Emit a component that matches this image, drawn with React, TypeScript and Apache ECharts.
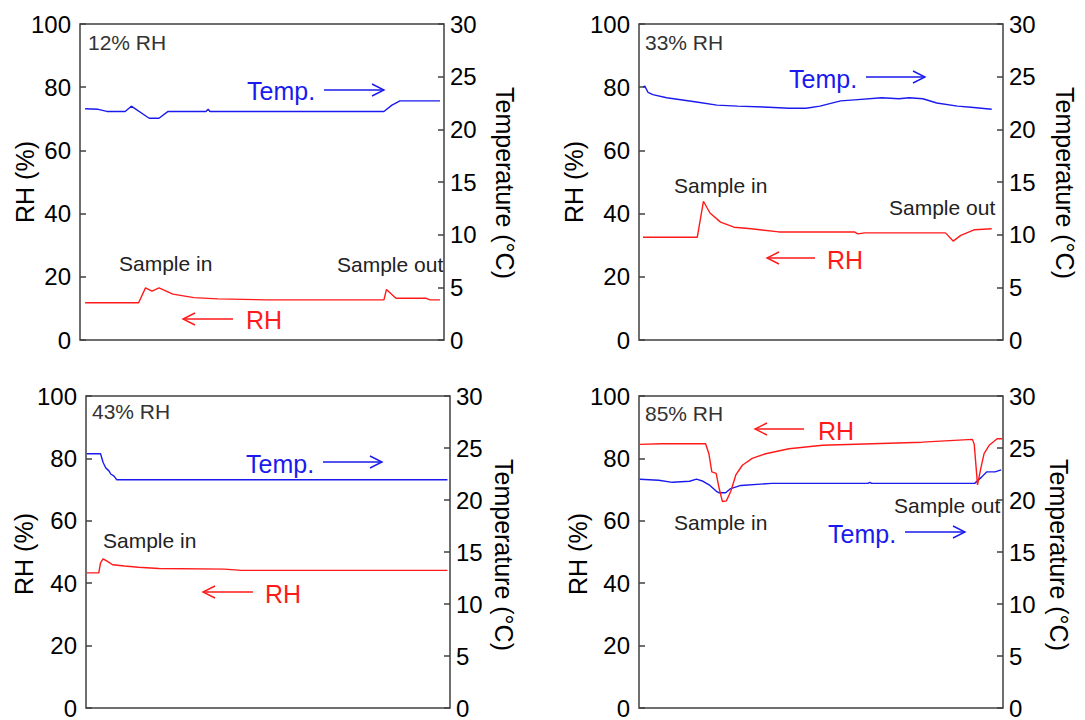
import React, { useEffect, useRef } from "react";
import * as echarts from "echarts";

// ---- data (time in % of run, RH in %, temperature in °C) ----
const rh12 = [[1.4, 11.8], [16.1, 11.8], [18.0, 16.5], [19.8, 15.5], [21.7, 16.5], [25.5, 14.5], [31.3, 13.4], [37.9, 13.0], [51.2, 12.7], [83.5, 12.7], [84.2, 16.0], [86.8, 13.2], [95.1, 13.2], [96.2, 12.7], [98.9, 12.7]];
const temp12 = [[1.4, 21.95], [5.0, 21.9], [7.4, 21.7], [12.4, 21.7], [14.1, 22.2], [19.0, 21.05], [21.7, 21.05], [24.2, 21.7], [34.6, 21.7], [35.2, 21.9], [35.7, 21.7], [83.5, 21.7], [85.7, 22.3], [87.9, 22.7], [98.9, 22.7]];

const rh33 = [[1.1, 32.5], [16.0, 32.5], [17.7, 43.9], [19.5, 40.2], [22.4, 37.3], [26.1, 35.7], [30.8, 35.2], [38.4, 34.2], [59.2, 34.2], [60.1, 33.6], [62.0, 33.9], [84.2, 33.9], [86.3, 31.3], [88.4, 33.1], [92.2, 34.9], [96.9, 35.2]];
const temp33 = [[1.1, 24.0], [1.6, 24.1], [2.5, 23.5], [3.8, 23.3], [7.6, 23.0], [15.8, 22.6], [21.4, 22.3], [27.1, 22.2], [35.6, 22.1], [41.2, 22.0], [45.9, 22.0], [49.7, 22.2], [55.4, 22.7], [59.2, 22.8], [66.7, 23.0], [71.4, 22.9], [74.2, 23.0], [78.0, 22.9], [81.8, 22.5], [87.5, 22.2], [91.2, 22.1], [96.9, 21.9]];

const rh43 = [[0.2, 43.3], [3.5, 43.3], [4.0, 46.5], [4.7, 47.8], [5.9, 47.0], [7.3, 45.9], [10.6, 45.5], [14.4, 45.1], [20.0, 44.7], [38.0, 44.5], [42.7, 44.1], [99.3, 44.1]];
const temp43 = [[0.2, 24.45], [4.0, 24.45], [4.7, 23.6], [5.4, 23.1], [6.3, 22.8], [6.8, 22.5], [7.7, 22.3], [8.4, 21.95], [99.3, 21.95]];

const rh85 = [[0.2, 84.5], [6.3, 84.7], [18.3, 84.7], [19.2, 81.5], [20.0, 75.7], [21.2, 75.2], [22.0, 70.5], [22.9, 66.2], [24.0, 66.4], [25.2, 69.4], [26.6, 74.7], [28.4, 77.8], [31.1, 80.0], [34.8, 81.5], [41.2, 83.1], [50.4, 84.2], [64.1, 84.7], [77.8, 85.2], [91.6, 86.1], [92.1, 84.5], [93.0, 71.5], [93.9, 76.8], [94.8, 81.5], [96.2, 84.2], [98.4, 86.3], [99.8, 86.3]];
const temp85 = [[0.2, 22.0], [5.4, 21.9], [9.2, 21.7], [13.9, 21.8], [15.8, 22.0], [17.6, 21.8], [19.5, 21.4], [21.4, 20.8], [21.9, 20.7], [23.8, 20.7], [25.2, 21.1], [28.0, 21.4], [36.5, 21.6], [62.9, 21.6], [63.4, 21.7], [63.9, 21.6], [92.2, 21.6], [94.1, 22.2], [95.5, 22.7], [97.8, 22.7], [99.5, 22.9]];

const panelTitles = ["12% RH", "33% RH", "43% RH", "85% RH"];
const rhSeries = [rh12, rh33, rh43, rh85];
const tempSeries = [temp12, temp33, temp43, temp85];
const rhAxisName = "RH (%)";
const tempAxisName = "Temperature (°C)";

// ---- layout ----
const FONT = "'Liberation Sans', Arial, sans-serif";
const FRAME = "#404040";
const RED = "#ff1a1a";
const BLUE = "#1a1aee";
const grids = [
  { left: 80, top: 24 },
  { left: 639, top: 24 },
  { left: 86, top: 396 },
  { left: 639, top: 396 },
];
const GW = 364;
const GH = 316;

function txt(text: string, x: number, y: number, size: number, color: string, rotation = 0, align = "left") {
  return {
    type: "text",
    x,
    y,
    rotation,
    silent: true,
    style: {
      text,
      fill: color,
      fontSize: size,
      fontFamily: FONT,
      align,
      verticalAlign: "middle",
      textAlign: align,
      textVerticalAlign: "middle",
    },
  };
}

function arrow(x1: number, x2: number, y: number, color: string) {
  const dir = x2 > x1 ? -1 : 1;
  return [
    { type: "line", silent: true, shape: { x1, y1: y, x2, y2: y }, style: { stroke: color, lineWidth: 1.4 } },
    {
      type: "polyline",
      silent: true,
      shape: { points: [[x2 + dir * 12, y - 6], [x2, y], [x2 + dir * 12, y + 6]] },
      style: { stroke: color, lineWidth: 1.4, fill: null },
    },
  ];
}

export default function App() {
  const ref = useRef<HTMLDivElement>(null);
  useEffect(() => {
    if (!ref.current) return;
    const chart = echarts.init(ref.current, null, { renderer: "svg" });

    const grid = grids.map((g) => ({
      left: g.left,
      top: g.top,
      width: GW,
      height: GH,
      show: true,
      borderColor: FRAME,
      borderWidth: 1.5,
      backgroundColor: "transparent",
    }));
    const xAxis = grids.map((_, i) => ({
      type: "value",
      gridIndex: i,
      min: 0,
      max: 100,
      axisLine: { show: false },
      axisTick: { show: false },
      axisLabel: { show: false },
      splitLine: { show: false },
    }));
    const yAxis: any[] = [];
    grids.forEach((_, i) => {
      yAxis.push({
        type: "value",
        gridIndex: i,
        position: "left",
        min: 0,
        max: 100,
        interval: 20,
        axisLine: { show: false },
        axisTick: { show: true, inside: true, length: 6, lineStyle: { color: FRAME, width: 1.5 } },
        axisLabel: { fontSize: 24, color: "#000", margin: 9, fontFamily: FONT },
        splitLine: { show: false },
      });
      yAxis.push({
        type: "value",
        gridIndex: i,
        position: "right",
        min: 0,
        max: 30,
        interval: 5,
        axisLine: { show: false },
        axisTick: { show: true, inside: true, length: 6, lineStyle: { color: FRAME, width: 1.5 } },
        axisLabel: { fontSize: 24, color: "#000", margin: 6, fontFamily: FONT },
        splitLine: { show: false },
      });
    });

    const series: any[] = [];
    grids.forEach((_, i) => {
      series.push({
        type: "line",
        name: "Temp " + panelTitles[i],
        xAxisIndex: i,
        yAxisIndex: 2 * i + 1,
        data: tempSeries[i],
        showSymbol: false,
        lineStyle: { color: BLUE, width: 1.4 },
        itemStyle: { color: BLUE },
      });
      series.push({
        type: "line",
        name: "RH " + panelTitles[i],
        xAxisIndex: i,
        yAxisIndex: 2 * i,
        data: rhSeries[i],
        showSymbol: false,
        lineStyle: { color: RED, width: 1.4 },
        itemStyle: { color: RED },
      });
    });

    const TXT = "#222";
    const AX = 25;
    const elements: any[] = [
      // axis names
      txt(rhAxisName, 24.5, 182, AX, "#000", Math.PI / 2, "center"),
      txt(tempAxisName, 505, 183, AX, "#000", -Math.PI / 2, "center"),
      txt(rhAxisName, 574, 182, AX, "#000", Math.PI / 2, "center"),
      txt(tempAxisName, 1065, 183, AX, "#000", -Math.PI / 2, "center"),
      txt(rhAxisName, 24, 554, AX, "#000", Math.PI / 2, "center"),
      txt(tempAxisName, 503.5, 555, AX, "#000", -Math.PI / 2, "center"),
      txt(rhAxisName, 578, 554, AX, "#000", Math.PI / 2, "center"),
      txt(tempAxisName, 1059, 555, AX, "#000", -Math.PI / 2, "center"),
      // panel 1
      txt(panelTitles[0], 88, 42, 21, "#333"),
      txt("Temp.", 247, 91, 25, BLUE),
      ...arrow(324, 384, 90, BLUE),
      txt("Sample in", 119, 263, 21, TXT),
      txt("Sample out", 337, 264, 21, TXT),
      ...arrow(233, 183, 319, RED),
      txt("RH", 246, 320, 25, RED),
      // panel 2
      txt(panelTitles[1], 645, 42, 21, "#333"),
      txt("Temp.", 789, 79, 25, BLUE),
      ...arrow(866, 925, 77, BLUE),
      txt("Sample in", 674, 185, 21, TXT),
      txt("Sample out", 889, 207, 21, TXT),
      ...arrow(815, 767, 258, RED),
      txt("RH", 827, 260, 25, RED),
      // panel 3
      txt(panelTitles[2], 92, 411, 21, "#333"),
      txt("Temp.", 246, 464, 25, BLUE),
      ...arrow(323, 382, 462, BLUE),
      txt("Sample in", 103, 540, 21, TXT),
      ...arrow(253, 203, 592, RED),
      txt("RH", 265, 594, 25, RED),
      // panel 4
      txt(panelTitles[3], 645, 413, 21, "#333"),
      ...arrow(804, 755, 429, RED),
      txt("RH", 818, 431, 25, RED),
      txt("Sample in", 674, 522, 21, TXT),
      txt("Sample out", 894, 505, 21, TXT),
      txt("Temp.", 828, 534, 25, BLUE),
      ...arrow(905, 965, 532, BLUE),
    ];

    chart.setOption({
      animation: false,
      backgroundColor: "#fff",
      grid,
      xAxis,
      yAxis,
      series,
      graphic: { elements },
    });
    return () => chart.dispose();
  }, []);

  return (
    <div
      ref={ref}
      style={{ position: "fixed", left: 0, top: 0, width: 1085, height: 720 }}
    />
  );
}
